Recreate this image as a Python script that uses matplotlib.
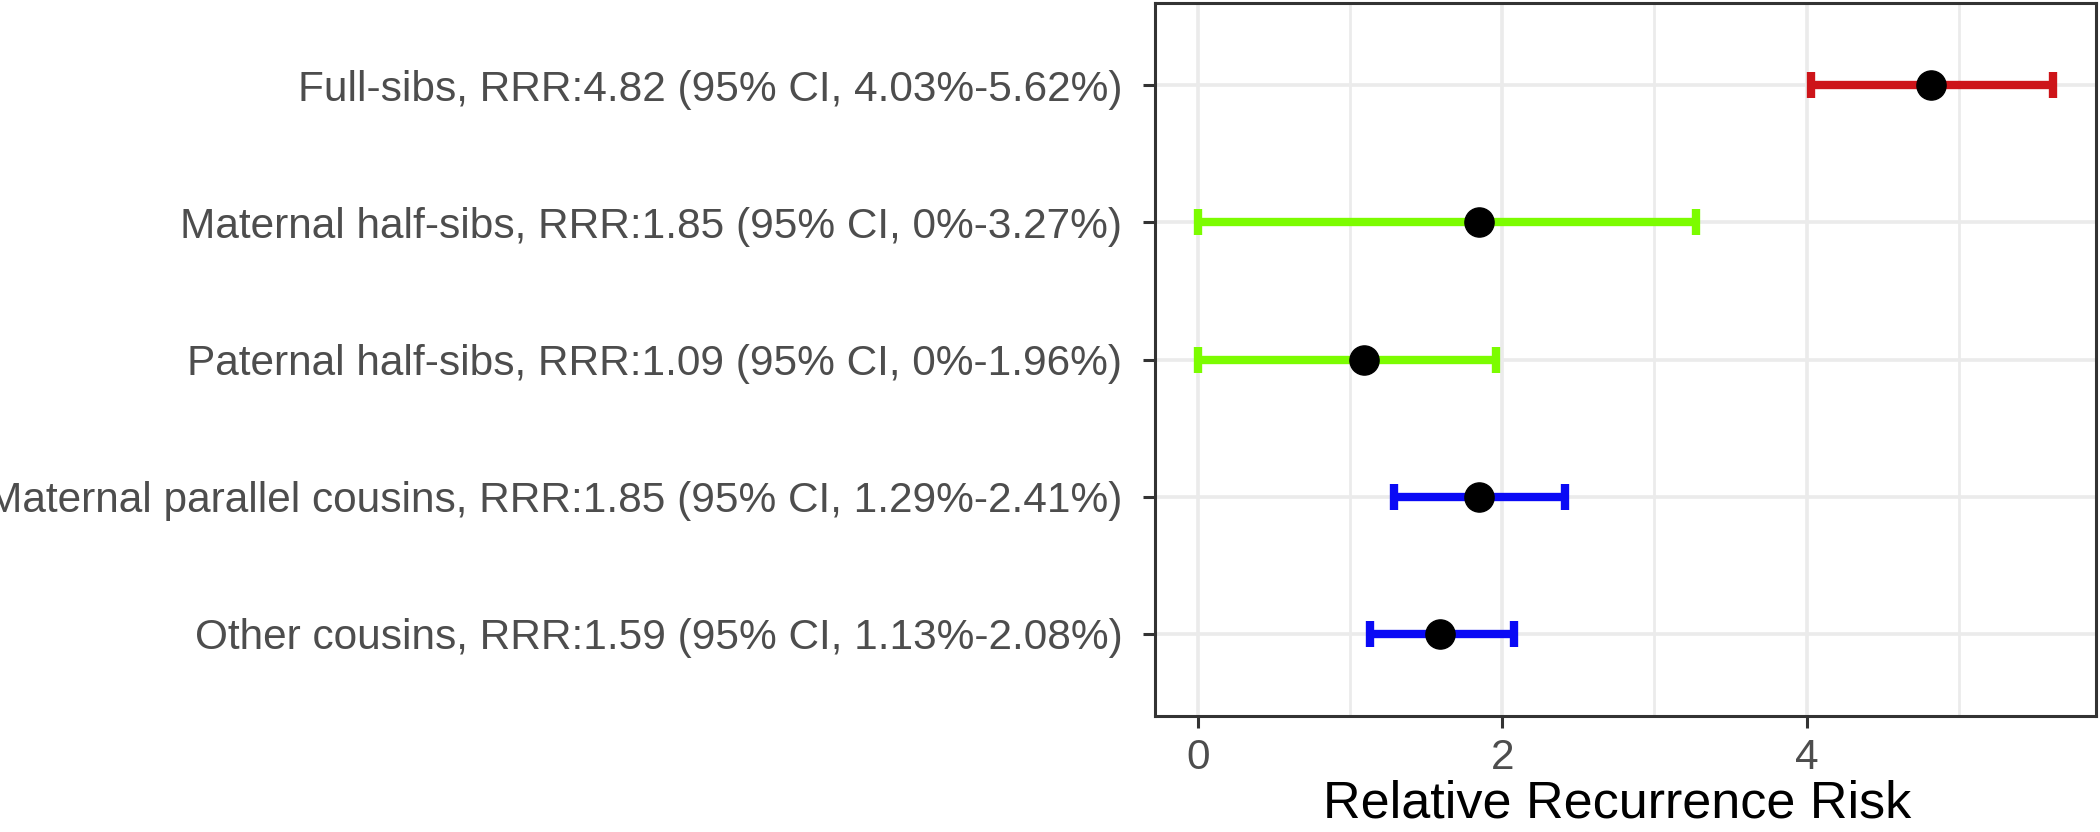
import matplotlib
matplotlib.use("Agg")
import matplotlib.pyplot as plt
from matplotlib.ticker import MultipleLocator

plt.rcParams['font.family'] = ['Liberation Sans', 'DejaVu Sans']

labels = [
    "Full-sibs, RRR:4.82 (95% CI, 4.03%-5.62%)",
    "Maternal half-sibs, RRR:1.85 (95% CI, 0%-3.27%)",
    "Paternal half-sibs, RRR:1.09 (95% CI, 0%-1.96%)",
    "Maternal parallel cousins, RRR:1.85 (95% CI, 1.29%-2.41%)",
    "Other cousins, RRR:1.59 (95% CI, 1.13%-2.08%)",
]
rrr = [4.82, 1.85, 1.09, 1.85, 1.59]
ci_low = [4.03, 0.0, 0.0, 1.29, 1.13]
ci_high = [5.62, 3.27, 1.96, 2.41, 2.08]
colors = ["#CD1419", "#7CFC00", "#7CFC00", "#0A0AF5", "#0A0AF5"]
xticks = [0, 2, 4]

fig = plt.figure(figsize=(21, 8.32), dpi=100)
ax = fig.add_axes([1155/2100, 1 - 716/832, (2096 - 1155)/2100, (716 - 3)/832])

n = len(labels)
ypos = [n - i for i in range(n)]

for y, m, lo, hi, c in zip(ypos, rrr, ci_low, ci_high, colors):
    ax.errorbar([m], [y], xerr=[[m - lo], [hi - m]], fmt='none', ecolor=c,
                elinewidth=6.0, capsize=9.7, capthick=6.0, zorder=3)
ax.plot(rrr, ypos, 'o', color='black', markersize=21, zorder=4, linestyle='none')

xmin = min(ci_low)
xmax = max(ci_high)
pad = 0.05 * (xmax - xmin)
ax.set_xlim(xmin - pad, xmax + pad)
ax.set_ylim(0.4, n + 0.6)

ax.set_yticks(ypos)
ax.set_yticklabels(labels)
ax.xaxis.set_major_locator(MultipleLocator(2))
ax.xaxis.set_minor_locator(MultipleLocator(1))
ax.set_xticks(xticks)
ax.set_xticklabels([str(t) for t in xticks])

ax.grid(True, which='major', color='#EBEBEB', linewidth=2.6, zorder=0)
ax.grid(True, which='minor', axis='x', color='#EBEBEB', linewidth=2.0, zorder=0)
ax.set_axisbelow(True)

for s in ax.spines.values():
    s.set_color('#333333')
    s.set_linewidth(2.2)

ax.tick_params(axis='both', which='major', length=8.5, width=2.2, color='#333333',
               labelsize=30.5, labelcolor='#4D4D4D')
ax.tick_params(axis='y', which='major', pad=15)
ax.tick_params(axis='x', which='major', pad=7)
ax.tick_params(axis='x', which='minor', length=0)

ax.set_xlabel("Relative Recurrence Risk", fontsize=37.5, color='black', va='baseline')
ax.xaxis.set_label_coords(0.491, -(817 - 716) / 713)

fig.savefig("out.png", dpi=100)
